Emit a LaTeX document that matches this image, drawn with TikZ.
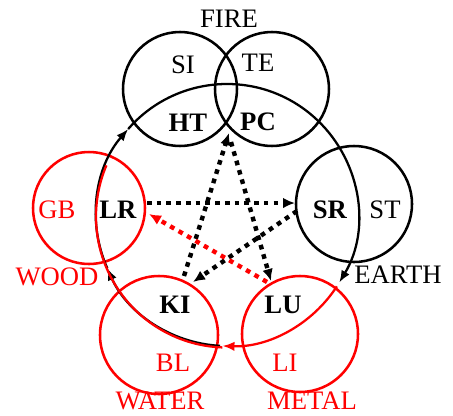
\documentclass[tikz,border=0pt]{standalone}
\usepackage{fontspec}
\setmainfont{Liberation Serif}
\usetikzlibrary{arrows.meta}

\tikzset{every picture/.style={line width=0.75pt}}
\tikzset{
  elemcirc/.style={line width=1.9pt},
  shengarc/.style={line width=1.7pt, -{Latex[length=9pt,width=7pt]}},
  kearrow/.style={line width=3.3pt, dash pattern=on 3.5pt off 3.8pt, -{Latex[length=9pt,width=8pt]}},
  lbl/.style={inner sep=0.75pt, font=\fontsize{20}{24}\selectfont},
}

\begin{document}
\begin{tikzpicture}[x=0.75pt,y=0.75pt,yscale=-1,xscale=1]
    \useasboundingbox (0,0) rectangle (453,415);

    %centres of the element circles
    \coordinate (fireL) at (180,89);
    \coordinate (fireR) at (272,89);
    \coordinate (earth) at (354,204);
    \coordinate (metal) at (300,334);
    \coordinate (water) at (159,335);
    \coordinate (wood) at (89,208);
    %centre of the big cycle
    \coordinate (ctr) at (227,215);
    \coordinate (ctrR) at (227,216.5);

    %Circles
    \draw [elemcirc] (fireL) circle [radius=57];
    \draw [elemcirc] (fireR) circle [radius=57];
    \draw [elemcirc] (earth) circle [radius=58];
    \draw [elemcirc, red] (metal) circle [radius=58];
    \draw [elemcirc, red] (water) circle [radius=59];
    \draw [elemcirc, red] (wood) circle [radius=56];

    %Arcs of the big cycle
    \draw [shengarc] ([shift={(93:131)}]ctr) arc [start angle=93, end angle=156, radius=131];
    \draw [shengarc] ([shift={(156:131)}]ctr) arc [start angle=156, end angle=221, radius=131];
    \draw [shengarc] ([shift={(221:131)}]ctr) arc [start angle=221, end angle=391, radius=131];
    \draw [line width=1.7pt, red] ([shift={(92:131)}]ctrR) arc [start angle=92, end angle=203, radius=131];
    \draw [shengarc, red] ([shift={(33:131)}]ctr) arc [start angle=33, end angle=92, radius=131];

    %end points of the star
    \coordinate (wdA) at (147,203);
    \coordinate (erA) at (295,203);
    \coordinate (erB) at (297,211);
    \coordinate (wtA) at (193,282);
    \coordinate (wtB) at (184,276);
    \coordinate (frA) at (229,133);
    \coordinate (frB) at (231,142);
    \coordinate (mtA) at (271,281);
    \coordinate (mtB) at (267,282);
    \coordinate (wdB) at (149,214);

    %Dotted arrows
    \draw [kearrow] (wdA) -- (erA);
    \draw [kearrow] (erB) -- (wtA);
    \draw [kearrow] (wtB) -- (frA);
    \draw [kearrow] (frB) -- (mtA);
    \draw [kearrow, red] (mtB) -- (wdB);

    % Text Node
    \node [lbl] (fire) at (229,19) {FIRE};
    % Text Node
    \node [lbl] (si) at (183,65) {SI};
    % Text Node
    \node [lbl] (te) at (258,63) {TE};
    % Text Node
    \node [lbl] (ht) at (188,123) {\textbf{HT}};
    % Text Node
    \node [lbl] (pc) at (258,122) {\textbf{PC}};
    % Text Node
    \node [lbl] (sr) at (330,210) {\textbf{SR}};
    % Text Node
    \node [lbl] (st) at (385,210) {ST};
    % Text Node
    \node [lbl] (earthtxt) at (398,275) {EARTH};
    % Text Node
    \node [lbl, red] (gb) at (57,210) {GB};
    % Text Node
    \node [lbl] (lr) at (118,210) {\textbf{LR}};
    % Text Node
    \node [lbl, red] (woodtxt) at (57,277) {WOOD};
    % Text Node
    \node [lbl] (ki) at (175,305) {\textbf{KI}};
    % Text Node
    \node [lbl] (lu) at (283,305) {\textbf{LU}};
    % Text Node
    \node [lbl, red] (bl) at (173,363) {BL};
    % Text Node
    \node [lbl, red] (li) at (285,363) {LI};
    % Text Node
    \node [lbl, red] (watertxt) at (160,401) {WATER};
    % Text Node
    \node [lbl, red] (metaltxt) at (312,401) {METAL};

\end{tikzpicture}
\end{document}
